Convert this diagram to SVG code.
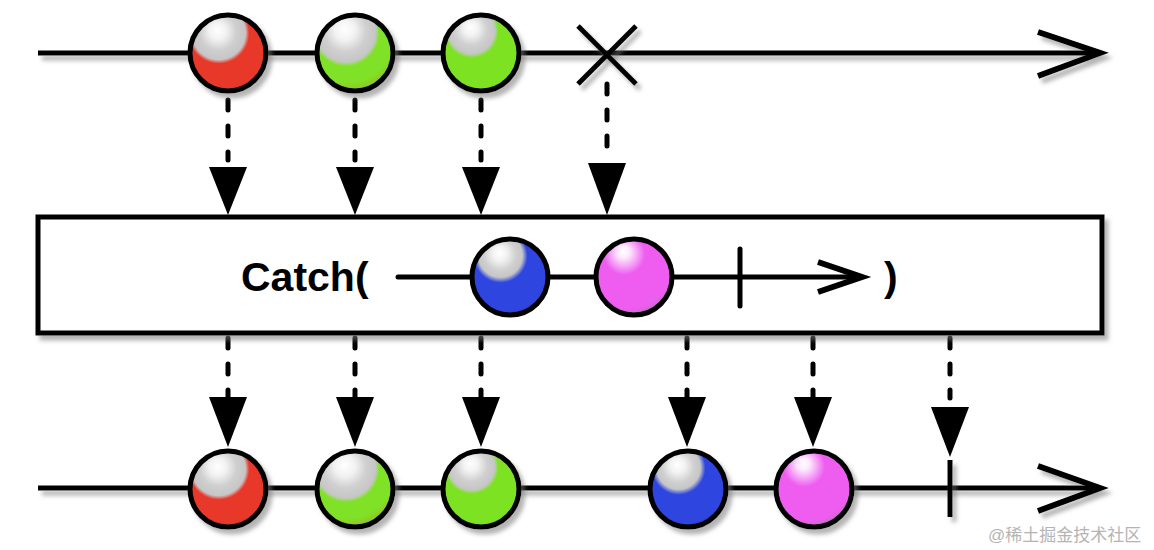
<svg xmlns="http://www.w3.org/2000/svg" width="1154" height="550" viewBox="0 0 1154 550">
<defs>
<filter id="sh" filterUnits="userSpaceOnUse" x="0" y="0" width="1154" height="550">
<feDropShadow dx="4" dy="5" stdDeviation="2" flood-color="#777" flood-opacity="0.55"/>
</filter>
<radialGradient id="gRed" cx="0.4" cy="0.28" r="0.8" fx="0.36" fy="0.2">
<stop offset="0" stop-color="#ffffff"/><stop offset="0.14" stop-color="#f2f2f2"/><stop offset="0.3" stop-color="#cfcfcf"/><stop offset="0.44" stop-color="#c6c6c6"/><stop offset="0.5" stop-color="#e8392a"/><stop offset="0.86" stop-color="#e8392a"/><stop offset="1" stop-color="#b8302a"/>
</radialGradient>
<radialGradient id="gGreen1" cx="0.4" cy="0.28" r="0.85" fx="0.36" fy="0.18">
<stop offset="0" stop-color="#ffffff"/><stop offset="0.16" stop-color="#f2f2f2"/><stop offset="0.32" stop-color="#d0d0d0"/><stop offset="0.46" stop-color="#c6c6c6"/><stop offset="0.52" stop-color="#80e226"/><stop offset="0.74" stop-color="#80e226"/><stop offset="1" stop-color="#a8a02a"/>
</radialGradient>
<radialGradient id="gGreen2" cx="0.4" cy="0.28" r="0.8" fx="0.36" fy="0.16">
<stop offset="0" stop-color="#ffffff"/><stop offset="0.12" stop-color="#f2f2f2"/><stop offset="0.26" stop-color="#d0d0d0"/><stop offset="0.38" stop-color="#c6c6c6"/><stop offset="0.44" stop-color="#7de224"/><stop offset="0.88" stop-color="#7de224"/><stop offset="1" stop-color="#5fae20"/>
</radialGradient>
<radialGradient id="gBlue" cx="0.4" cy="0.28" r="0.8" fx="0.36" fy="0.18">
<stop offset="0" stop-color="#ffffff"/><stop offset="0.12" stop-color="#f2f2f2"/><stop offset="0.26" stop-color="#d0d0d0"/><stop offset="0.36" stop-color="#c6c6c6"/><stop offset="0.44" stop-color="#2f45e0"/><stop offset="0.86" stop-color="#2f45e0"/><stop offset="1" stop-color="#22339a"/>
</radialGradient>
<radialGradient id="gPink" cx="0.4" cy="0.28" r="0.8" fx="0.36" fy="0.16">
<stop offset="0" stop-color="#ffffff"/><stop offset="0.1" stop-color="#fde8fd"/><stop offset="0.34" stop-color="#ee5df0"/><stop offset="0.82" stop-color="#ee5df0"/><stop offset="1" stop-color="#a07aa0"/>
</radialGradient>
</defs>
<style>
.ln{stroke:#000;stroke-width:5;fill:none}
.ah{stroke:#000;stroke-width:6;fill:none;stroke-linejoin:miter}
.ds{stroke:#000;stroke-width:5;stroke-dasharray:10 16;stroke-linecap:round;fill:none}
.tri{fill:#000}
.ball{stroke:#000;stroke-width:5}
.lbl{font-family:"Liberation Sans",Arial,sans-serif;font-weight:bold;font-size:41px;fill:#000}
.wm{font-family:"Liberation Sans","Noto Sans CJK SC",sans-serif;font-size:17px;fill:#b4b4b4}
</style>
<rect width="1154" height="550" fill="#fff"/>

<g id="connectors">
<g filter="url(#sh)">
<line class="ln" x1="38" y1="53" x2="1098" y2="53"/>
<polyline class="ah" points="1038,32 1100,53 1038,76"/>
<line class="ln" x1="38" y1="488" x2="1098" y2="488"/>
<polyline class="ah" points="1038,466 1100,488 1038,511"/>
</g>
<line class="ds" x1="228" y1="100" x2="228" y2="160"/>
<line class="ds" x1="355" y1="100" x2="355" y2="160"/>
<line class="ds" x1="481" y1="100" x2="481" y2="160"/>
<line class="ds" x1="607" y1="84" x2="607" y2="150"/>
<polygon class="tri" points="209,167 247,167 228,215"/>
<polygon class="tri" points="336,167 374,167 355,215"/>
<polygon class="tri" points="462,167 500,167 481,215"/>
<polygon class="tri" points="588,163 626,163 607,215"/>
<line class="ds" x1="228" y1="338" x2="228" y2="398"/>
<line class="ds" x1="355" y1="338" x2="355" y2="398"/>
<line class="ds" x1="481" y1="338" x2="481" y2="398"/>
<line class="ds" x1="687" y1="338" x2="687" y2="398"/>
<line class="ds" x1="813" y1="338" x2="813" y2="398"/>
<line class="ds" x1="950" y1="338" x2="950" y2="398"/>
<polygon class="tri" points="209,397 247,397 228,447"/>
<polygon class="tri" points="336,397 374,397 355,447"/>
<polygon class="tri" points="462,397 500,397 481,447"/>
<polygon class="tri" points="668,397 706,397 687,447"/>
<polygon class="tri" points="794,397 832,397 813,447"/>
<polygon class="tri" points="931,407 969,407 950,457"/>
</g>

<g id="error-x" filter="url(#sh)">
<line class="ln" x1="578" y1="26" x2="636" y2="84"/>
<line class="ln" x1="636" y1="26" x2="578" y2="84"/>
</g>

<g id="top-red"><circle class="ball" cx="228" cy="53" r="38" fill="url(#gRed)" filter="url(#sh)"/></g>
<g id="top-green1"><circle class="ball" cx="355" cy="53" r="38" fill="url(#gGreen1)" filter="url(#sh)"/></g>
<g id="top-green2"><circle class="ball" cx="481" cy="53" r="38" fill="url(#gGreen2)" filter="url(#sh)"/></g>

<g id="catch-box">
<rect x="38" y="217" width="1064" height="116" fill="#fff" stroke="#000" stroke-width="5" filter="url(#sh)"/>
<text class="lbl" x="241" y="291">Catch(</text>
<text class="lbl" x="884" y="291">)</text>
<line class="ln" x1="398" y1="277" x2="860" y2="277" stroke-linecap="round"/>
<polyline class="ah" points="818,262 862,277 818,292" stroke-width="5"/>
<line class="ln" x1="740" y1="249" x2="740" y2="306" stroke-linecap="round"/>
</g>
<g id="inner-blue"><circle class="ball" cx="510" cy="277" r="38" fill="url(#gBlue)"/></g>
<g id="inner-pink"><circle class="ball" cx="634" cy="277" r="38" fill="url(#gPink)"/></g>

<g id="bottom-red"><circle class="ball" cx="228" cy="489" r="38" fill="url(#gRed)" filter="url(#sh)"/></g>
<g id="bottom-green1"><circle class="ball" cx="355" cy="489" r="38" fill="url(#gGreen1)" filter="url(#sh)"/></g>
<g id="bottom-green2"><circle class="ball" cx="481" cy="489" r="38" fill="url(#gGreen2)" filter="url(#sh)"/></g>
<g id="bottom-blue"><circle class="ball" cx="688" cy="489" r="38" fill="url(#gBlue)" filter="url(#sh)"/></g>
<g id="bottom-pink"><circle class="ball" cx="814" cy="489" r="38" fill="url(#gPink)" filter="url(#sh)"/></g>
<g id="complete-tick" filter="url(#sh)"><line class="ln" x1="950" y1="460" x2="950" y2="517"/></g>

<text class="wm" x="988" y="541">@稀土掘金技术社区</text>
</svg>
